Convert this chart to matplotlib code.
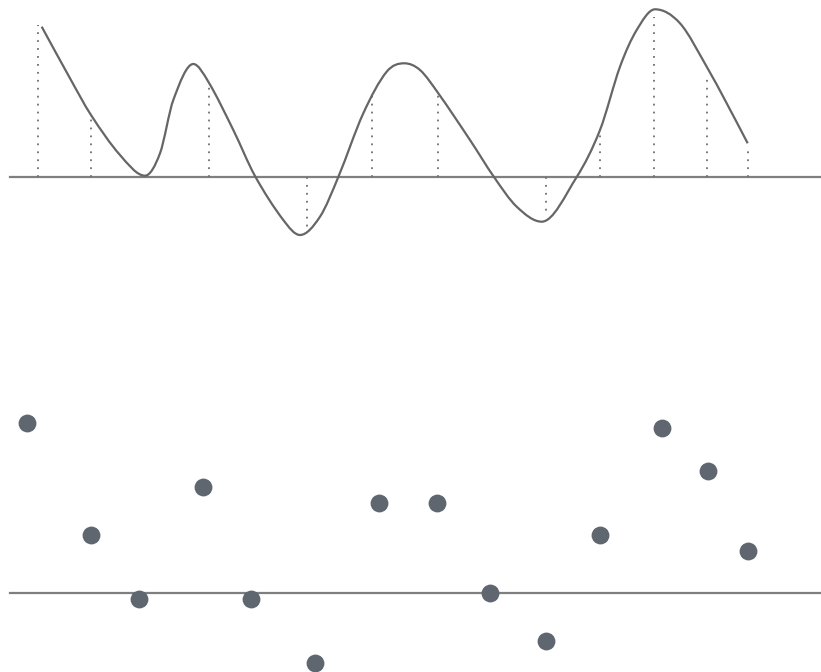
import matplotlib.pyplot as plt
from matplotlib.path import Path
from matplotlib.patches import PathPatch

# top panel: line (height above the baseline)
curva_x = [41.7, 70, 91, 120, 145, 160, 173.3, 193.3, 208.3, 233.3, 255,
           283.3, 300, 320, 338.3, 363.3, 386.7, 404.3, 420, 438.3, 470, 494,
           516.7, 541.7, 576.7, 600, 620, 636.7, 655, 680, 706.7,
           726.7, 747.7]
curva_y = [150.6, 99, 62.3, 22.3, 1.6, 24, 77.3, 113.3, 95.6, 47.3, 1.3,
           -42.7, -57.7, -39.4, 0.3, 64, 105.6, 114, 107.3, 84, 37.3, 0.3,
           -29.4, -44.4, 0.3, 47.3, 110.6, 147.3, 168, 154, 110.6,
           74, 34]

# dotted stems
palos_x = [37.7, 91, 209, 306.7, 372.3, 438.3, 546, 600, 654, 707.3, 747.7]
palos_y = [152, 62, 94, -50, 82, 84, -36, 47, 160, 102, 31]

# bottom panel: points
puntos_x = [27.3, 91.3, 139.3, 203.3, 251.3, 315.3, 379.3, 436.7, 490, 546,
            600, 661.7, 707.7, 747.7]
puntos_y = [32, 11, -1, 20, -1, -13, 17, 17, 0, -9, 11, 31, 23, 8]


def camino_suave(xs, ys):
    # cubic bezier through the points, flat at local peaks and troughs
    n = len(xs)
    m = []
    for i in range(n):
        if i == 0:
            m.append((ys[1] - ys[0]) / (xs[1] - xs[0]))
        elif i == n - 1:
            m.append((ys[-1] - ys[-2]) / (xs[-1] - xs[-2]))
        elif (ys[i] - ys[i - 1]) * (ys[i + 1] - ys[i]) <= 0:
            m.append(0.0)
        else:
            m.append((ys[i + 1] - ys[i - 1]) / (xs[i + 1] - xs[i - 1]))
    verts = [(xs[0], ys[0])]
    codes = [Path.MOVETO]
    for i in range(n - 1):
        d = (xs[i + 1] - xs[i]) / 3
        verts += [(xs[i] + d, ys[i] + m[i] * d),
                  (xs[i + 1] - d, ys[i + 1] - m[i + 1] * d),
                  (xs[i + 1], ys[i + 1])]
        codes += [Path.CURVE4] * 3
    return Path(verts, codes)


W, H = 821, 672
fig = plt.figure(figsize=(W / 100, H / 100), dpi=100)

arriba = fig.add_axes([0, (H - 250) / H, 1, 250 / H])
abajo = fig.add_axes([0, 0, 1, 272 / H])

for ax in (arriba, abajo):
    ax.set_xlim(0, W)
    ax.axis('off')
    ax.axhline(0, xmin=10 / W, xmax=1, color='#7f7f7f', linewidth=1.6, zorder=1)

plt.sca(arriba)
plt.ylim(177.3 - 250, 177.3)
plt.vlines(palos_x, 0, palos_y, colors='#707070', linewidth=1.3,
           linestyles=(0, (1, 3.4)), zorder=2)
arriba.add_patch(PathPatch(camino_suave(curva_x, curva_y), facecolor='none',
                           edgecolor='#666666', linewidth=1.6, capstyle='butt',
                           zorder=3))

plt.sca(abajo)
escala = 5.33
plt.ylim((593.3 - 672) / escala, (593.3 - 400) / escala)
plt.scatter(puntos_x, puntos_y, s=165, color='#5f6670', linewidths=0, zorder=3)

plt.savefig('out.png', dpi=100)
